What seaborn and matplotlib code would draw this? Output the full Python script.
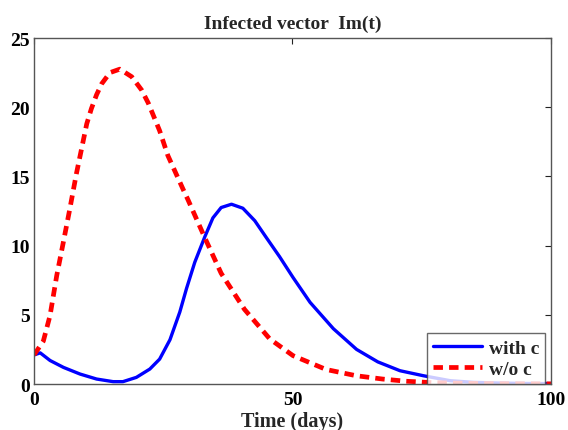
import numpy as np
import pandas as pd
import matplotlib
matplotlib.use("Agg")
import matplotlib.pyplot as plt
from matplotlib.lines import Line2D
import seaborn as sns

# Data
t_with = [0, 1.2, 3.1, 5.7, 8.9, 12.1, 15.3, 17.2, 19.8, 22.4, 24.3, 26.3, 28.2, 29.5,
          31.1, 33.0, 34.6, 36.2, 38.2, 40.4, 42.7, 44.9, 47.5, 50.1, 53.4, 57.9, 62.4,
          66.5, 70.8, 75.3, 80.5, 85, 90, 95, 100]
im_with = [2.1, 2.25, 1.7, 1.2, 0.72, 0.36, 0.17, 0.17, 0.48, 1.08, 1.8, 3.2, 5.2, 6.9,
           8.8, 10.6, 12.0, 12.75, 12.99, 12.7, 11.8, 10.6, 9.2, 7.7, 5.9, 4.0, 2.5,
           1.6, 0.96, 0.6, 0.24, 0.12, 0.07, 0.04, 0.03]

t_wo = [0, 1.8, 3.1, 4.4, 5.7, 6.95, 8.2, 9.2, 10.2, 11.1, 12.1, 13.1, 14.7, 16.6, 18.9,
        20.8, 22.1, 24.3, 25.9, 28.8, 29.8, 33.0, 36.2, 40.7, 45.6, 50.1, 56.5, 62.3,
        67.4, 72, 77, 85, 92, 100]
im_wo = [2.1, 3.1, 4.95, 7.85, 10.3, 12.7, 15.2, 17.0, 18.8, 19.9, 20.9, 21.7, 22.5, 22.75,
         22.2, 21.25, 20.3, 18.3, 16.5, 14.1, 13.3, 10.6, 8.0, 5.4, 3.26, 2.05, 1.05, 0.6,
         0.36, 0.2, 0.1, 0.04, 0.02, 0.01]

labels = ["with c", "w/o c"]
title = "Infected vector  Im(t)"
xlabel = "Time (days)"
xticks = [0, 50, 100]
yticks = [0, 5, 10, 15, 20, 25]

df = pd.concat([
    pd.DataFrame({"t": t_with, "v": im_with, "s": labels[0]}),
    pd.DataFrame({"t": t_wo, "v": im_wo, "s": labels[1]}),
])

sns.set_theme(style="white")
plt.rcParams["font.family"] = ["Liberation Serif", "DejaVu Serif"]
plt.rcParams["font.weight"] = "bold"

fig = plt.figure(figsize=(5.68, 4.31), dpi=100)
ax = fig.add_axes([0.0599, 0.1067, 0.9101, 0.8028])

blue = "#0000ff"
red = "#ff0000"
dash = (2.0, 1.3)

sns.lineplot(data=df, x="t", y="v", hue="s", style="s",
             palette={labels[0]: blue, labels[1]: red},
             dashes={labels[0]: "", labels[1]: dash},
             ax=ax, legend=False, estimator=None, sort=True)
lines = ax.get_lines()
lines[0].set_linewidth(2.4)
lines[0].set_solid_joinstyle("round")
lines[0].set_solid_capstyle("round")
lines[1].set_linewidth(3.4)
lines[1].set_dash_joinstyle("round")

ax.set_xlim(0, 100)
ax.set_ylim(0, 25)
ax.set_xticks(xticks)
ax.set_yticks(yticks)
ax.tick_params(direction="in", length=4, width=0.8, top=True, right=True,
               labelsize=14, colors="#222222", pad=3)
ax.tick_params(axis="x", pad=5)
for lab in ax.get_xticklabels() + ax.get_yticklabels():
    lab.set_fontweight("bold")
    lab.set_color("black")
for sp in ax.spines.values():
    sp.set_color("#555555")
    sp.set_linewidth(1.0)

ax.set_title(title, fontsize=14, fontweight="bold", pad=7)
ax.set_xlabel(xlabel, fontsize=14.5, fontweight="bold", labelpad=2)
ax.set_ylabel("")

h = [Line2D([], [], color=blue, lw=2.4),
     Line2D([], [], color=red, lw=3.4, dashes=dash)]
leg = ax.legend(h, labels, loc="lower right", bbox_to_anchor=(0.988, 0.0),
                prop={"family": "Liberation Serif", "weight": "bold", "size": 14},
                frameon=True, fancybox=False, handlelength=2.5, borderpad=0.3,
                labelspacing=0.2, handletextpad=0.35, borderaxespad=0)
leg.get_frame().set_edgecolor("#444444")
leg.get_frame().set_linewidth(1.0)

fig.savefig("out.png", dpi=100)
